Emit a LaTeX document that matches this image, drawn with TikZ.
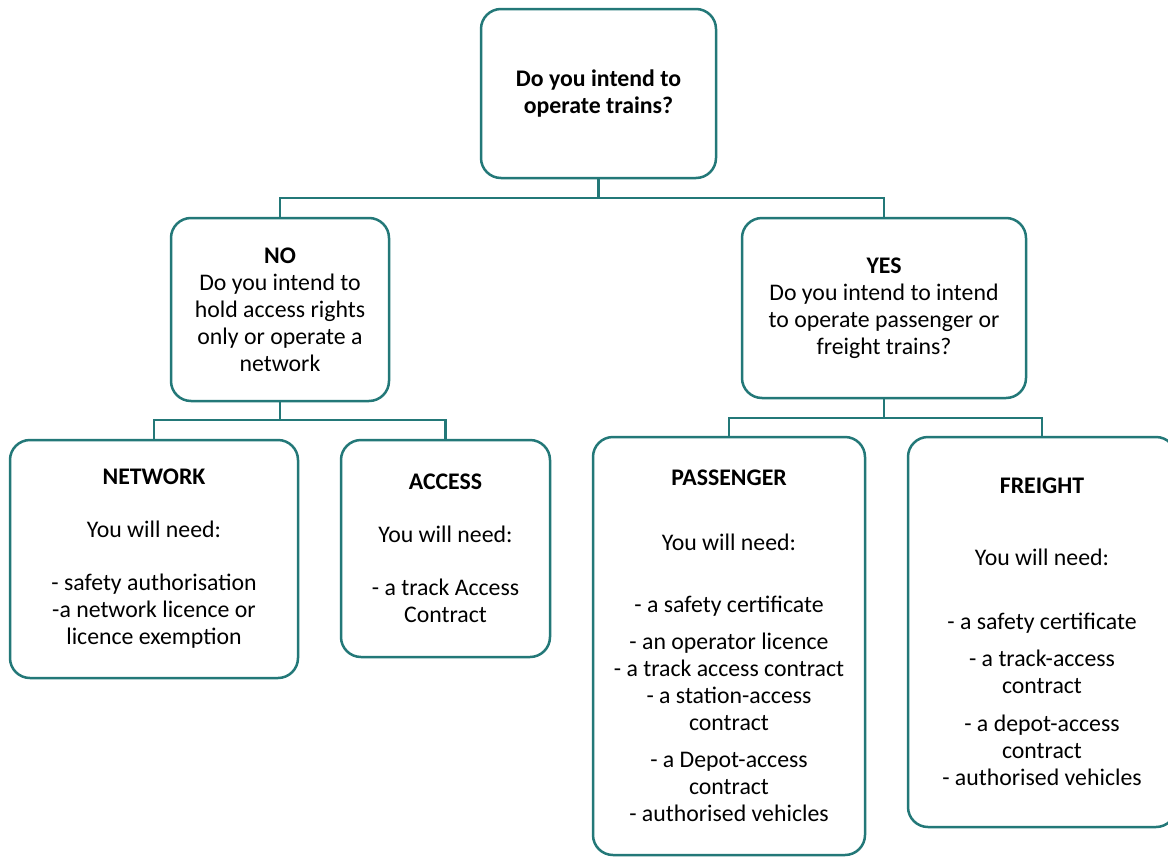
\documentclass[tikz,border=0pt]{standalone}
\usepackage{fontspec}
\setmainfont{Carlito}
\definecolor{teal1}{RGB}{35,120,120}
\tikzset{
  box/.style={draw=teal1, line width=2.5pt, rounded corners=20pt, fill=white,
    align=center, inner sep=0pt, text=black, font=\fontsize{23.8}{27}\selectfont},
  link/.style={draw=teal1, line width=2.5pt}
}
\begin{document}
\begin{tikzpicture}[x=1pt,y=-1pt]
\clip (0,0) rectangle (1168,857);
\fill[white] (0,0) rectangle (1168,857);

\node[box, minimum width=235pt, minimum height=169pt] (top) at (598.5,93.5)
  {\textbf{Do you intend to}\\\textbf{operate trains?}};

\node[box, minimum width=218pt, minimum height=183pt] (no) at (280,309.5)
  {\textbf{NO}\\Do you intend to\\hold access rights\\only or operate a\\network};

\node[box, minimum width=284pt, minimum height=180pt] (yes) at (884,308)
  {\textbf{YES}\\Do you intend to intend\\to operate passenger or\\freight trains?};

\node[box, minimum width=288pt, minimum height=238pt] (network) at (154,559)
  {\textbf{NETWORK}\\[26pt]You will need:\\[26pt]- safety authorisation\\-a network licence or\\licence exemption};

\node[box, minimum width=209pt, minimum height=217pt] (access) at (445.5,548.5)
  {\textbf{ACCESS}\\[26pt]You will need:\\[26pt]- a track Access\\Contract};

\node[box, minimum width=272pt, minimum height=418pt] (passenger) at (729,646)
  {\textbf{PASSENGER}\\[38pt]You will need:\\[35pt]- a safety certificate\\[10pt]- an operator licence\\- a track access contract\\- a station-access\\contract\\[10pt]- a Depot-access\\contract\\- authorised vehicles};

\node[box, minimum width=268pt, minimum height=390pt] (freight) at (1042,632)
  {\textbf{FREIGHT}\\[45pt]You will need:\\[37pt]- a safety certificate\\[10pt]- a track-access\\contract\\[11pt]- a depot-access\\contract\\- authorised vehicles};

\coordinate (j1) at (598.5,198);
\coordinate (j2) at (280,420);
\coordinate (j3) at (884,418);

\draw[link] (top.south) -- (j1);
\draw[link] (no.north) |- (j1) -| (yes.north);
\draw[link] (no.south) -- (j2);
\draw[link] (network.north) |- (j2) -| (access.north);
\draw[link] (yes.south) -- (j3);
\draw[link] (passenger.north) |- (j3) -| (freight.north);
\end{tikzpicture}
\end{document}
